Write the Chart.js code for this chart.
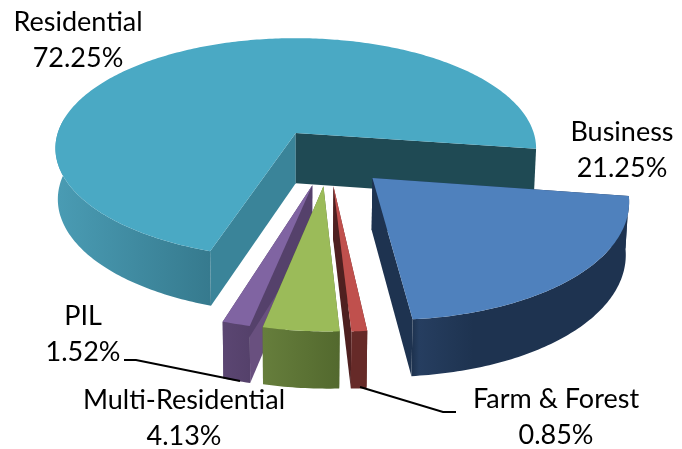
<!DOCTYPE html>
<html>
<head>
<meta charset="utf-8">
<style>
  html, body { margin: 0; padding: 0; background: #fff; }
  canvas { display: block; }
</style>
<script src="https://cdn.jsdelivr.net/npm/chart.js@4"></script>
</head>
<body>
<canvas id="chart" width="682" height="449"></canvas>
<script>
const categories = ['Business', 'Farm & Forest', 'Multi-Residential', 'PIL', 'Residential'];
const shares = [21.25, 0.85, 4.13, 1.52, 72.25];
const shareLabels = ['21.25%', '0.85%', '4.13%', '1.52%', '72.25%'];
const topColors = ['#4f81bd', '#c0504d', '#9bbb59', '#8064a2', '#4aa9c4'];

// wall shading per slice: outer wall gradient stops, cut face at start angle, cut face at end angle
const wallStops = [
  [[0, '#1e3350'], [0.03, '#263e60'], [0.28, '#1e3350'], [1, '#1e3350']],
  [[0, '#662a28'], [1, '#662a28']],
  [[0, '#667e3c'], [1, '#53692e']],
  [[0, '#5b4672'], [1, '#55416b']],
  [[0, '#4a9cb4'], [1, '#367a8e']],
];
const startFaces = ['#1e3350', '#662a28', '#53692e', '#69507f', '#3a8499'];
const endFaces = ['#1e3350', '#4f2020', '#53692e', '#55416b', '#1f4a54'];

const drawOrder = [4, 3, 2, 1, 0]; // back to front

// camera: pie plane to screen, with a little perspective
const VIEW = { x: 295, y: 133, a: 238, b: 108, k: 0.14, cu: 0.135, cv: 0.212 };
const FONT = "Lato, 'Open Sans', sans-serif";

const labelSpots = [
  { x: 622, y: 141 },
  { x: 556, y: 408 },
  { x: 184, y: 409 },
  { x: 83, y: 325 },
  { x: 78, y: 31 },
];
const leaders = [
  [[124, 360], [136, 360], [240, 381]],
  [[360, 387], [443, 412], [456, 412]],
];

// u, v in radii from the apex of the untouched pie; z 0 = top face, 1 = bottom face
function project(u, v, z) {
  const s = 1 / (1 - VIEW.k * v);
  const sx = VIEW.a * u * s * (1 - 0.01 * z);
  return { x: VIEW.x + sx, y: VIEW.y + VIEW.b * v * s + z * (24.5 + 26 * s) };
}

function sliceGeometry(el) {
  const mid = (el.startAngle + el.endAngle) / 2;
  const shift = el.options.offset / el.outerRadius;
  const apexU = VIEW.cu + Math.cos(mid) * shift;
  const apexV = VIEW.cv + Math.sin(mid) * shift;
  const arcAt = (a, z) => project(apexU + Math.cos(a), apexV + Math.sin(a), z);
  const steps = Math.max(4, Math.ceil((el.endAngle - el.startAngle) / 0.015));
  const angles = [];
  for (let i = 0; i <= steps; i++) {
    angles.push(el.startAngle + (el.endAngle - el.startAngle) * i / steps);
  }
  return { apexU, apexV, arcAt, angles };
}

function fillPath(ctx, pts, fill) {
  ctx.beginPath();
  pts.forEach((p, i) => (i ? ctx.lineTo(p.x, p.y) : ctx.moveTo(p.x, p.y)));
  ctx.closePath();
  ctx.fillStyle = fill;
  ctx.fill();
}

function drawWalls(ctx, el, i) {
  const g = sliceGeometry(el);
  const apexTop = project(g.apexU, g.apexV, 0);
  const apexBot = project(g.apexU, g.apexV, 1);
  const first = g.angles[0];
  const last = g.angles[g.angles.length - 1];

  fillPath(ctx, [apexTop, g.arcAt(first, 0), g.arcAt(first, 1), apexBot], startFaces[i]);
  fillPath(ctx, [apexTop, g.arcAt(last, 0), g.arcAt(last, 1), apexBot], endFaces[i]);

  // outer wall: only the run of the arc that faces the viewer
  const stop = g.angles.findIndex((a) => Math.sin(a) < -0.15);
  const front = stop < 0 ? g.angles : g.angles.slice(0, stop);
  const upper = front.map((a) => g.arcAt(a, 0));
  const lower = front.map((a) => g.arcAt(a, 1)).reverse();
  const xs = upper.map((p) => p.x);
  const grad = ctx.createLinearGradient(Math.min(...xs), 0, Math.max(...xs), 0);
  wallStops[i].forEach(([at, c]) => grad.addColorStop(at, c));
  fillPath(ctx, upper.concat(lower), grad);
}

function drawTop(ctx, el) {
  const g = sliceGeometry(el);
  const pts = [project(g.apexU, g.apexV, 0)].concat(g.angles.map((a) => g.arcAt(a, 0)));
  fillPath(ctx, pts, el.options.backgroundColor);
}

const pie3d = {
  id: 'pie3d',
  beforeDatasetsDraw(chart) {
    const { ctx } = chart;
    const arcs = chart.getDatasetMeta(0).data;
    ctx.save();
    drawOrder.forEach((i) => drawWalls(ctx, arcs[i], i));
    drawOrder.forEach((i) => drawTop(ctx, arcs[i]));
    ctx.restore();
    return false;
  },
  afterDraw(chart) {
    const { ctx } = chart;
    ctx.save();
    ctx.strokeStyle = '#000';
    ctx.lineWidth = 2;
    leaders.forEach((line) => {
      ctx.beginPath();
      line.forEach(([x, y], i) => (i ? ctx.lineTo(x, y) : ctx.moveTo(x, y)));
      ctx.stroke();
    });
    ctx.fillStyle = '#000';
    ctx.font = '27px ' + FONT;
    ctx.textAlign = 'center';
    ctx.textBaseline = 'alphabetic';
    categories.forEach((name, i) => {
      ctx.fillText(name, labelSpots[i].x, labelSpots[i].y);
      ctx.fillText(shareLabels[i], labelSpots[i].x, labelSpots[i].y + 36);
    });
    ctx.restore();
  },
};

new Chart(document.getElementById('chart'), {
  type: 'pie',
  data: {
    labels: categories,
    datasets: [{
      data: shares,
      backgroundColor: topColors,
      borderWidth: 0,
      offset: 50,
    }],
  },
  options: {
    responsive: false,
    animation: false,
    rotation: 98.3,
    layout: { padding: 0 },
    plugins: { legend: { display: false }, tooltip: { enabled: false } },
  },
  plugins: [pie3d],
});
</script>
</body>
</html>
